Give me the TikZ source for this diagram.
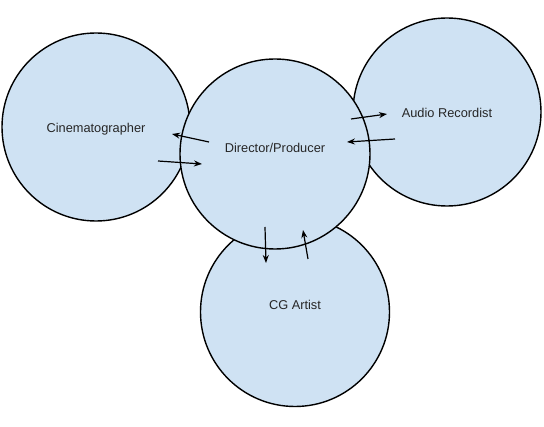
\documentclass[tikz,border=0pt]{standalone}
\usepackage{fontspec}
\setmainfont{Liberation Sans}
\usepackage{xcolor}
\usetikzlibrary{arrows.meta}
\definecolor{discblue}{HTML}{CFE2F3}

\begin{document}
\begin{tikzpicture}[
      x=1pt, y=-1pt,
      disc/.style={circle, draw, line width=1.4pt, fill=discblue,
                   minimum size=190pt, inner sep=0pt},
      lbl/.style={font=\fontsize{12.8}{15}\selectfont, text=black!85},
      arrow/.style={-{Stealth[length=8pt,width=6pt]}, line width=1.2pt}
    ]
    \useasboundingbox (0,0) rectangle (544,427);

    % outer circles first, the director sits on top
    \node[disc, minimum size=188pt,
          label={[lbl, yshift=-2pt]center:Cinematographer}] (cin) at (96,127) {};
    \node[disc, minimum size=188pt,
          label={[lbl, yshift=-1pt]center:Audio Recordist}] (aud) at (447,112) {};
    \node[disc, minimum size=189pt,
          label={[lbl, yshift=7pt]center:CG Artist}] (cg) at (295,312) {};
    \node[disc, label={[lbl, yshift=6pt]center:Director/Producer}] (dir) at (275,154) {};

    \draw[arrow] ([shift={(-66,-12)}]dir.center) -- ([shift={(76,7)}]cin.center);
    \draw[arrow] ([shift={(62,34)}]cin.center)   -- ([shift={(-73,10)}]dir.center);
    \draw[arrow] ([shift={(76,-35)}]dir.center)  -- ([shift={(-60,2)}]aud.center);
    \draw[arrow] ([shift={(-52,27)}]aud.center)  -- ([shift={(72,-12)}]dir.center);
    \draw[arrow] ([shift={(-10,73)}]dir.center)  -- ([shift={(-29,-49)}]cg.center);
    \draw[arrow] ([shift={(13,-53)}]cg.center)   -- ([shift={(28,76)}]dir.center);
  \end{tikzpicture}
\end{document}
